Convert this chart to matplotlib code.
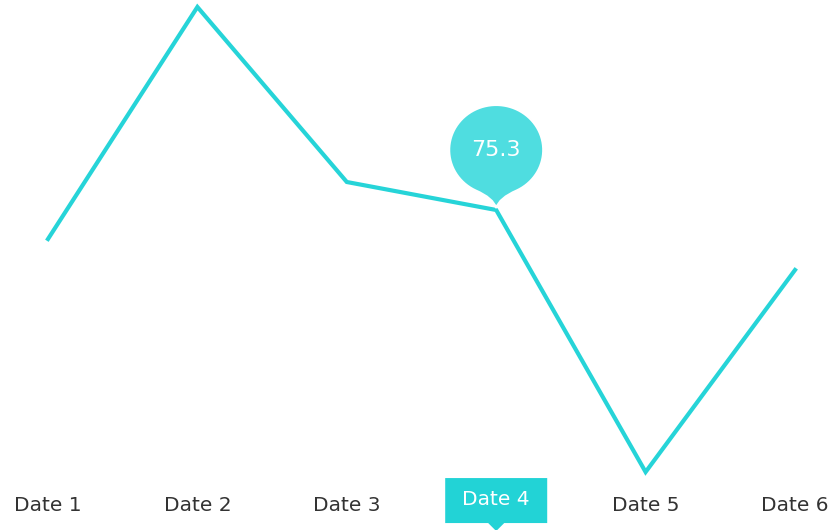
import numpy as np
import matplotlib
matplotlib.use("Agg")
import matplotlib.pyplot as plt
import matplotlib.transforms as mtransforms
from matplotlib.path import Path
from matplotlib.patches import PathPatch

categories = ["Date 1", "Date 2", "Date 3", "Date 4", "Date 5", "Date 6"]
values = [72.4, 95.6, 78.1, 75.3, 49.1, 69.3]
highlight_index = 3

LINE = "#26d4d8"
BUBBLE = "#4fdde0"
BOX = "#22d3d6"
TEXT = "#333333"

fig = plt.figure(figsize=(8.35, 5.3), dpi=100)
ax = fig.add_axes([0, 0, 1, 1])
ax.set_axis_off()
x = np.arange(len(categories))
ax.plot(x, values, color=LINE, lw=3.0, solid_joinstyle="miter", zorder=2)
ax.set_xlim(-0.3213, 5.2677)
ax.set_ylim(43.3, 96.3)

blend = mtransforms.blended_transform_factory(ax.transData, ax.transAxes)

# labels
for i, c in enumerate(categories):
    if i == highlight_index:
        continue
    ax.text(i, 0.047, c, transform=blend, ha="center", va="center",
            fontsize=14.5, color=TEXT, family="DejaVu Sans")

hx = x[highlight_index]
hy = values[highlight_index]

# highlighted label box with pointer
tr_box = mtransforms.Affine2D() + mtransforms.ScaledTranslation(hx, 0.0565, blend)
verts = [(-51, 22), (51, 22), (51, -23), (8, -23), (0, -31), (-8, -23), (-51, -23), (-51, 22)]
codes = [Path.MOVETO] + [Path.LINETO] * 6 + [Path.CLOSEPOLY]
ax.add_patch(PathPatch(Path(verts, codes), transform=tr_box, facecolor=BOX, edgecolor="none",
                       clip_on=False, zorder=3))
ax.text(hx, 0.0575, categories[highlight_index], transform=blend, ha="center", va="center",
        fontsize=14.5, color="white", family="DejaVu Sans", zorder=4)

# value bubble
tr = mtransforms.Affine2D() + mtransforms.ScaledTranslation(hx, hy, ax.transData)
cx, cy, rx, ry = 0, 60, 47, 45
a0, a1 = np.deg2rad(-64), np.deg2rad(-116) + 2 * np.pi
angs = np.linspace(a0, a1, 80)
arc = [(cx + rx * np.cos(a), cy + ry * np.sin(a)) for a in angs]
tip = (0, 2)
v = [tip, (3, 12), arc[0]] + arc[1:] + [(-3, 12), tip, tip]
c = [Path.MOVETO, Path.CURVE3, Path.CURVE3] + [Path.LINETO] * (len(arc) - 1) + \
    [Path.CURVE3, Path.CURVE3, Path.CLOSEPOLY]
ax.add_patch(PathPatch(Path(v, c), transform=tr, facecolor=BUBBLE, edgecolor="white", lw=1.5,
                       zorder=5, clip_on=False))
ax.text(0, 0, f"{hy}", transform=mtransforms.Affine2D().translate(0, 60) +
        mtransforms.ScaledTranslation(hx, hy, ax.transData),
        ha="center", va="center", fontsize=16, color="white", family="DejaVu Sans", zorder=6)

fig.savefig("out.png", dpi=100)
